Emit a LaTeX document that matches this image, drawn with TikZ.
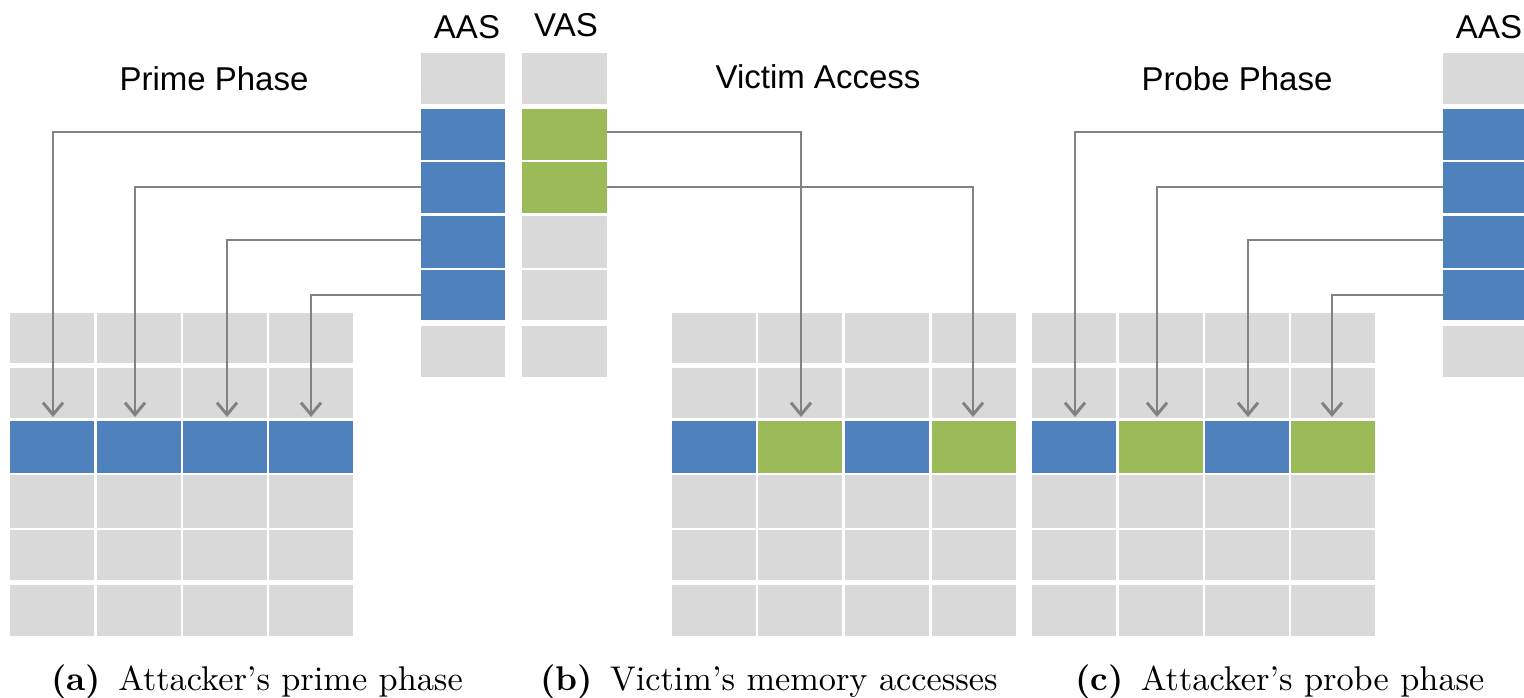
\documentclass[tikz,border=0pt]{standalone}
\usepackage{fontspec}
\newfontfamily\arialf{Liberation Sans}
\usetikzlibrary{arrows.meta}
\definecolor{cgray}{HTML}{D9D9D9}
\definecolor{cblue}{HTML}{4F81BD}
\definecolor{cgreen}{HTML}{9BBB59}
\definecolor{cline}{HTML}{828282}
\begin{document}
\begin{tikzpicture}[x=1pt,y=-1pt,
  cell/.style={rectangle,inner sep=0pt,outer sep=0pt,draw=none,anchor=north west,minimum width=84pt},
  conn/.style={draw=cline,line width=2pt,-{Straight Barb[length=12pt,width=20pt,line width=3pt]},shorten >=4pt},
  title/.style={font=\arialf\fontsize{33}{38}\selectfont,anchor=base,inner sep=0pt},
  captext/.style={anchor=base,inner sep=0pt}]
\useasboundingbox (0,0) rectangle (1524,698);
\clip (0,0) rectangle (1524,698);

% ---------- memory grids ----------
\foreach \g/\xa/\xb/\xc/\xd in {a/10/97/183/269, b/672/758/845/932, c/1032/1119/1205/1291}{
  \foreach \r/\t/\h in {1/313/50,2/368/50,4/475/53,5/530/50,6/585/51}{
    \foreach \c/\x in {1/\xa,2/\xb,3/\xc,4/\xd}{
      \node[cell,fill=cgray,minimum height=\h pt] (\g\r\c) at (\x,\t) {};
    }
  }
}
% colored row
\foreach \c/\x/\col in {1/10/cblue,2/97/cblue,3/183/cblue,4/269/cblue}
  \node[cell,fill=\col,minimum height=52pt] (a3\c) at (\x,421) {};
\foreach \c/\x/\col in {1/672/cblue,2/758/cgreen,3/845/cblue,4/932/cgreen}
  \node[cell,fill=\col,minimum height=52pt] (b3\c) at (\x,421) {};
\foreach \c/\x/\col in {1/1032/cblue,2/1119/cgreen,3/1205/cblue,4/1291/cgreen}
  \node[cell,fill=\col,minimum height=52pt] (c3\c) at (\x,421) {};

% ---------- address space stacks ----------
\foreach \r/\t/\h/\col in {1/53/51/cgray,2/109/51/cblue,3/162/51/cblue,4/216/52/cblue,5/270/50/cblue,6/326/51/cgray}
  \node[cell,fill=\col,minimum height=\h pt] (aasA\r) at (421,\t) {};
\foreach \r/\t/\h/\col in {1/53/51/cgray,2/109/51/cgreen,3/162/51/cgreen,4/216/52/cgray,5/270/50/cgray,6/326/51/cgray}
  \node[cell,fill=\col,minimum height=\h pt,minimum width=85pt] (vas\r) at (522,\t) {};
\foreach \r/\t/\h/\col in {1/53/51/cgray,2/109/51/cblue,3/162/51/cblue,4/216/52/cblue,5/270/50/cblue,6/326/51/cgray}
  \node[cell,fill=\col,minimum height=\h pt] (aasC\r) at (1443,\t) {};

% ---------- labels ----------
\node[title] (lAASa) at (467,39) {AAS};
\node[title] (lVAS) at (566,37) {VAS};
\node[title] (lAASc) at (1489,39) {AAS};
\node[title] (tPrime) at (214,91) {Prime Phase};
\node[title] (tVictim) at (818,89) {Victim Access};
\node[title] (tProbe) at (1237,91) {Probe Phase};

% ---------- connectors ----------
\draw[conn] ([yshift=2pt]aasA2.west) -| ([xshift=1pt]a31.north);
\draw[conn] (aasA3.west) -| ([xshift=-4pt]a32.north);
\draw[conn] ([yshift=2pt]aasA4.west) -| ([xshift=2pt]a33.north);
\draw[conn] (aasA5.west) -| (a34.north);

\draw[conn] ([yshift=2pt]vas2.east) -| ([xshift=1pt]b32.north);
\draw[conn] (vas3.east) -| ([xshift=-1pt]b34.north);

\draw[conn] ([yshift=2pt]aasC2.west) -| ([xshift=1pt]c31.north);
\draw[conn] (aasC3.west) -| ([xshift=-4pt]c32.north);
\draw[conn] ([yshift=2pt]aasC4.west) -| ([xshift=1pt]c33.north);
\draw[conn] (aasC5.west) -| ([xshift=-1pt]c34.north);

% ---------- captions ----------
\node[captext] (capA) at (257,690) {\scalebox{3.43}{\textbf{(a)}\enspace Attacker's prime phase}};
\node[captext] (capB) at (769,690) {\scalebox{3.43}{\textbf{(b)}\enspace Victim's memory accesses}};
\node[captext] (capC) at (1280,690) {\scalebox{3.43}{\textbf{(c)}\enspace Attacker's probe phase}};
\end{tikzpicture}
\end{document}
